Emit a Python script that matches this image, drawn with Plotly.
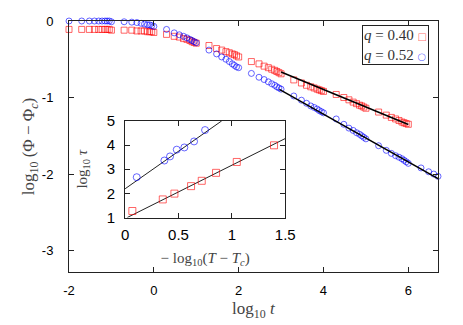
import plotly.graph_objects as go

# main panel: log10 t vs log10(Phi - Phi_c)
red_t = [-2.0, -1.70, -1.52, -1.40, -1.30, -1.22, -1.15, -1.10, -1.05,
         -1.0, -0.70, -0.52, -0.40, -0.30, -0.22, -0.15, -0.10, -0.05,
         0.0, 0.30, 0.48, 0.60, 0.70, 0.78, 0.85, 0.90, 0.95,
         1.0, 1.30, 1.48, 1.60, 1.70, 1.78, 1.85, 1.90, 1.95,
         2.0, 2.30, 2.48, 2.60, 2.70, 2.78, 2.85, 2.90, 2.95,
         3.0, 3.30, 3.48, 3.60, 3.70, 3.78, 3.85, 3.90, 3.95,
         4.0, 4.30, 4.48, 4.60, 4.70, 4.78, 4.85, 4.90, 4.95,
         5.0, 5.30, 5.48, 5.60, 5.70, 5.78, 5.85, 5.90, 5.95, 6.0]
red_phi = [-0.11, -0.11, -0.11, -0.11, -0.11, -0.11, -0.11, -0.11, -0.11,
           -0.12, -0.12, -0.12, -0.13, -0.13, -0.13, -0.14, -0.14, -0.14,
           -0.15, -0.175, -0.20, -0.21, -0.23, -0.24, -0.255, -0.27, -0.28,
           -0.29, -0.32, -0.36, -0.38, -0.40, -0.415, -0.43, -0.44, -0.455,
           -0.47, -0.53, -0.56, -0.59, -0.61, -0.63, -0.645, -0.66, -0.675,
           -0.69, -0.77, -0.81, -0.84, -0.86, -0.875, -0.89, -0.90, -0.91,
           -0.92, -0.96, -1.00, -1.03, -1.06, -1.08, -1.10, -1.11, -1.125,
           -1.14, -1.19, -1.23, -1.26, -1.28, -1.30, -1.32, -1.33, -1.34, -1.35]

blue_t = [-2.0, -1.70, -1.52, -1.40, -1.30, -1.22, -1.15, -1.10, -1.05,
          -1.0, -0.70, -0.52, -0.40, -0.30, -0.22, -0.15, -0.10, -0.05,
          0.0, 0.30, 0.48, 0.60, 0.70, 0.78, 0.85, 0.90, 0.95,
          1.0, 1.30, 1.48, 1.60, 1.70, 1.78, 1.85, 1.90, 1.95,
          2.0, 2.30, 2.48, 2.60, 2.70, 2.78, 2.85, 2.90, 2.95,
          3.0, 3.30, 3.48, 3.60, 3.70, 3.78, 3.85, 3.90, 3.95,
          4.0, 4.30, 4.48, 4.60, 4.70, 4.78, 4.85, 4.90, 4.95,
          5.0, 5.30, 5.48, 5.60, 5.70, 5.78, 5.85, 5.90, 5.95,
          6.0, 6.30, 6.48, 6.60, 6.70]
blue_phi = [0.0, 0.0, 0.0, 0.0, 0.0, 0.0, 0.0, 0.0, 0.0,
            -0.01, -0.01, -0.015, -0.02, -0.03, -0.04, -0.05, -0.05, -0.06,
            -0.07, -0.11, -0.155, -0.18, -0.20, -0.22, -0.24, -0.255, -0.27,
            -0.285, -0.38, -0.43, -0.47, -0.50, -0.53, -0.56, -0.58, -0.60,
            -0.61, -0.685, -0.735, -0.765, -0.795, -0.82, -0.84, -0.86, -0.875,
            -0.89, -0.98, -1.035, -1.075, -1.11, -1.13, -1.15, -1.17, -1.185,
            -1.20, -1.28, -1.35, -1.40, -1.43, -1.46, -1.48, -1.50, -1.52,
            -1.54, -1.63, -1.69, -1.73, -1.76, -1.78, -1.80, -1.82, -1.84,
            -1.86, -1.92, -1.97, -2.00, -2.03]

# power-law fits
fit_red_t = [3.0, 6.0]
fit_red_phi = [-0.666, -1.353]
fit_blue_t = [2.96, 6.70]
fit_blue_phi = [-0.894, -2.06]

# inset: -log10(T - Tc) vs log10 tau
inset_red_x = [0.068, 0.353, 0.462, 0.618, 0.718, 0.852, 1.046, 1.395]
inset_red_y = [1.27, 1.75, 1.99, 2.30, 2.52, 2.85, 3.30, 3.99]
inset_blue_x = [0.109, 0.368, 0.421, 0.484, 0.555, 0.646, 0.749]
inset_blue_y = [2.67, 3.36, 3.53, 3.81, 3.90, 4.15, 4.62]
inset_fit_red_x = [0.02, 1.5]
inset_fit_red_y = [1.0, 4.27]
inset_fit_blue_x = [0.0, 0.905]
inset_fit_blue_y = [2.19, 5.0]

main_xticks = [-2, 0, 2, 4, 6]
main_yticks = [-3, -2, -1, 0]
inset_xticks = [0, 0.5, 1, 1.5]
inset_yticks = [1, 2, 3, 4, 5]

RED = 'rgba(255,0,0,0.6)'
BLUE = 'rgba(0,0,255,0.6)'
SANS = 'Liberation Sans'
SERIF = 'Liberation Serif'

fig = go.Figure()
fig.add_trace(go.Scatter(x=red_t, y=red_phi, mode='markers', cliponaxis=False,
                         marker=dict(symbol='square-open', size=6, color=RED, line=dict(width=1))))
fig.add_trace(go.Scatter(x=blue_t, y=blue_phi, mode='markers', cliponaxis=False,
                         marker=dict(symbol='circle-open', size=6, color=BLUE, line=dict(width=1))))
fig.add_trace(go.Scatter(x=fit_red_t, y=fit_red_phi, mode='lines', line=dict(color='black', width=1.5)))
fig.add_trace(go.Scatter(x=fit_blue_t, y=fit_blue_phi, mode='lines', line=dict(color='black', width=1.5)))

fig.add_trace(go.Scatter(x=inset_fit_red_x, y=inset_fit_red_y, mode='lines', xaxis='x2', yaxis='y2',
                         line=dict(color='#222', width=1)))
fig.add_trace(go.Scatter(x=inset_fit_blue_x, y=inset_fit_blue_y, mode='lines', xaxis='x2', yaxis='y2',
                         line=dict(color='#222', width=1)))
fig.add_trace(go.Scatter(x=inset_red_x, y=inset_red_y, mode='markers', xaxis='x2', yaxis='y2',
                         marker=dict(symbol='square-open', size=7, color=RED, line=dict(width=1))))
fig.add_trace(go.Scatter(x=inset_blue_x, y=inset_blue_y, mode='markers', xaxis='x2', yaxis='y2',
                         marker=dict(symbol='circle-open', size=7, color=BLUE, line=dict(width=1))))

axis_common = dict(showline=True, linecolor='#222', linewidth=1, mirror='ticks',
                   ticks='inside', ticklen=5, tickcolor='#222', showgrid=False, zeroline=False)

fig.update_layout(
    width=463, height=325,
    margin=dict(l=69, r=25, t=19, b=53),
    paper_bgcolor='white', plot_bgcolor='white',
    showlegend=False,
    xaxis=dict(range=[-2, 6.7], tickvals=main_xticks, ticktext=[str(v) for v in main_xticks],
               tickfont=dict(family=SANS, size=13, color='black'), ticklabelstandoff=6,
               **axis_common),
    yaxis=dict(range=[-3.28, 0], tickvals=main_yticks, ticktext=[str(v) for v in main_yticks],
               tickfont=dict(family=SANS, size=13, color='black'), ticklabelstandoff=12,
               title=dict(text='log<sub>10</sub> (Φ − Φ<sub><i>c</i></sub>)', standoff=2,
                          font=dict(family=SERIF, size=17, color='#444')),
               **axis_common),
    xaxis2=dict(domain=[0.152, 0.586], anchor='y2', range=[0, 1.5],
                tickvals=inset_xticks, ticktext=['0', '0.5', '1', '1.5'],
                tickfont=dict(family=SANS, size=15, color='black'), ticklabelstandoff=3,
                title=dict(text='− log<sub>10</sub>(<i>T</i> − <i>T<sub>c</sub></i>)', standoff=10,
                           font=dict(family=SERIF, size=15, color='#444')),
                **axis_common),
    yaxis2=dict(domain=[0.217, 0.602], anchor='x2', range=[1, 5],
                tickvals=inset_yticks, ticktext=[str(v) for v in inset_yticks],
                tickfont=dict(family=SANS, size=15, color='black'), ticklabelstandoff=6,
                title=dict(text='log<sub>10</sub> <i>τ</i>', standoff=15,
                           font=dict(family=SERIF, size=15, color='#444')),
                **axis_common),
)

# main x-axis title, placed by hand so it sits where the original has it
fig.add_annotation(
    xref='paper', yref='paper', x=0.5, y=-0.15, xanchor='center', yanchor='middle',
    showarrow=False, text='log<sub>10</sub> <i>t</i>',
    font=dict(family=SERIF, size=17, color='#444'),
)

# legend box with symbols on the right, as in the original
fig.add_annotation(
    xref='paper', yref='paper', x=0.975, y=0.985, xanchor='right', yanchor='top',
    showarrow=False, align='left', bgcolor='white', bordercolor='#222', borderwidth=1, borderpad=1,
    text=("<i>q</i> = 0.40 <span style='color:rgba(255,0,0,0.6);font-family:DejaVu Sans;font-size:10px'>□</span><br>"
          "<i>q</i> = 0.52 <span style='color:rgba(0,0,255,0.6);font-family:DejaVu Sans;font-size:10px'>○</span>"),
    font=dict(family=SERIF, size=15, color='#333'),
)

# the page body has a default 8px margin; drop it so the figure fills the window
fig.write_html("out.html", config={'displayModeBar': False},
               post_script="document.body.style.margin='0';")
